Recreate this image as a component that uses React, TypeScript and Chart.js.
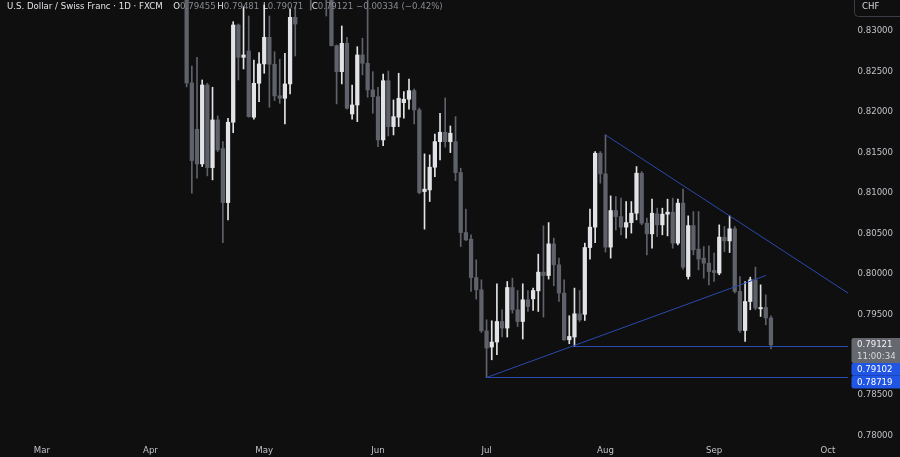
import React, { useEffect, useRef } from "react";
import { Chart, registerables } from "chart.js";

Chart.register(...registerables);

// ---- data (bar index = trading day counted from Mar 3) ----
const startIndex = 28;

const opens = [
  0.857, 0.82358, 0.81786, 0.81358, 0.82333, 0.81312, 0.81901, 0.81547, 0.8088, 0.81873,
  0.83074, 0.82675, 0.82753, 0.81935, 0.82354, 0.82593, 0.82922, 0.82589, 0.822, 0.82169,
  0.82346, 0.83169, 0.835, 0.844, 0.842, 0.838, 0.839, 0.837, 0.8355, 0.82819,
  0.82498, 0.82848, 0.81975, 0.82086, 0.82704, 0.82601, 0.82272, 0.82189, 0.81654, 0.82386,
  0.81819, 0.81935, 0.82115, 0.82157, 0.82263, 0.82025, 0.81016, 0.81037, 0.81317, 0.81633,
  0.81749, 0.81633, 0.81633, 0.81251, 0.8051, 0.80428, 0.79954, 0.79803, 0.79296, 0.79095,
  0.79157, 0.79411, 0.7933, 0.79831, 0.79556, 0.79411, 0.79679, 0.79691, 0.7979, 0.80021,
  0.79979, 0.8037, 0.80111, 0.79762, 0.79185, 0.79219, 0.79506, 0.795, 0.80325, 0.80577,
  0.8149, 0.81235, 0.8033, 0.80782, 0.80707, 0.80577, 0.80633, 0.80749, 0.81243, 0.80626,
  0.80494, 0.80741, 0.80605, 0.80737, 0.80762, 0.80379, 0.80873, 0.79967, 0.80596, 0.80305,
  0.80193, 0.80132, 0.80041, 0.80009, 0.80453, 0.80407, 0.80556, 0.79782, 0.793, 0.79658,
  0.79926, 0.79568, 0.79584, 0.79455,
];
const highs = [
  0.86, 0.82568, 0.82675, 0.82395, 0.82354, 0.82305, 0.81951, 0.81633, 0.81922, 0.83115,
  0.83086, 0.833, 0.83185, 0.82642, 0.82732, 0.83321, 0.83185, 0.82744, 0.82651, 0.82725,
  0.83268, 0.833, 0.8476, 0.8455, 0.844, 0.841, 0.8405, 0.8385, 0.8365, 0.82827,
  0.83062, 0.82922, 0.82333, 0.82806, 0.8291, 0.8345, 0.82498, 0.82305, 0.82469, 0.82506,
  0.82148, 0.82478, 0.82251, 0.82407, 0.82284, 0.82049, 0.81482, 0.81469, 0.81728, 0.81984,
  0.82173, 0.81827, 0.81942, 0.81305, 0.80799, 0.80482, 0.80173, 0.79926, 0.79432, 0.7942,
  0.79877, 0.79556, 0.79905, 0.79947, 0.79794, 0.79877, 0.79794, 0.79824, 0.80243, 0.80593,
  0.80633, 0.80441, 0.80194, 0.79926, 0.79482, 0.79824, 0.79794, 0.80379, 0.80799, 0.8151,
  0.8151, 0.81716, 0.80963, 0.80954, 0.80935, 0.80893, 0.80893, 0.81325, 0.81263, 0.80688,
  0.80922, 0.80811, 0.80811, 0.80922, 0.80935, 0.80922, 0.81046, 0.80716, 0.80769, 0.80769,
  0.80337, 0.80346, 0.80256, 0.80605, 0.80584, 0.80716, 0.80584, 0.79967, 0.79905, 0.79959,
  0.80083, 0.79864, 0.79741, 0.79481,
];
const lows = [
  0.82309, 0.80996, 0.81182, 0.81325, 0.8121, 0.81161, 0.8151, 0.80386, 0.80667, 0.81744,
  0.82395, 0.82531, 0.81935, 0.8191, 0.82127, 0.82478, 0.82058, 0.8214, 0.82107, 0.81852,
  0.82222, 0.82691, 0.8345, 0.8395, 0.83259, 0.835, 0.835, 0.83185, 0.82815, 0.82099,
  0.82346, 0.82033, 0.8191, 0.8188, 0.82457, 0.82182, 0.81984, 0.81572, 0.81584, 0.81704,
  0.81716, 0.81819, 0.81922, 0.82033, 0.81852, 0.80988, 0.80552, 0.80893, 0.81201, 0.81407,
  0.81564, 0.81498, 0.81152, 0.80337, 0.80411, 0.79782, 0.79688, 0.79275, 0.78719, 0.78938,
  0.79, 0.79219, 0.79219, 0.79515, 0.79349, 0.79194, 0.79535, 0.79547, 0.79535, 0.79465,
  0.79935, 0.79852, 0.79658, 0.79177, 0.79136, 0.79102, 0.79411, 0.79424, 0.80182, 0.80386,
  0.8112, 0.80268, 0.80194, 0.80543, 0.80482, 0.80441, 0.80503, 0.80667, 0.80605, 0.80235,
  0.80317, 0.80461, 0.80482, 0.80469, 0.80317, 0.80358, 0.80058, 0.79935, 0.80235, 0.80049,
  0.79947, 0.79864, 0.79905, 0.79988, 0.80275, 0.80263, 0.79762, 0.79275, 0.79164, 0.79556,
  0.79556, 0.79473, 0.7937, 0.79071,
];
const closes = [
  0.82358, 0.81399, 0.81358, 0.82333, 0.81312, 0.81901, 0.81531, 0.8088, 0.81873, 0.83074,
  0.82675, 0.82704, 0.81942, 0.82354, 0.82593, 0.82922, 0.82589, 0.82198, 0.82169, 0.82346,
  0.83169, 0.83086, 0.844, 0.842, 0.838, 0.839, 0.837, 0.8355, 0.82819, 0.82498,
  0.82848, 0.82046, 0.82086, 0.82704, 0.82601, 0.82272, 0.82189, 0.81654, 0.82386, 0.81819,
  0.81942, 0.82169, 0.82157, 0.82263, 0.82025, 0.81004, 0.81046, 0.81317, 0.81633, 0.81749,
  0.81633, 0.81737, 0.81251, 0.8051, 0.8042, 0.79954, 0.79803, 0.79296, 0.79083, 0.79157,
  0.79411, 0.7933, 0.79831, 0.79556, 0.79411, 0.79679, 0.79596, 0.79794, 0.80021, 0.79979,
  0.8037, 0.80111, 0.79762, 0.79185, 0.79226, 0.79506, 0.79432, 0.80325, 0.80577, 0.8149,
  0.81235, 0.8033, 0.80782, 0.80707, 0.80577, 0.80633, 0.80749, 0.81243, 0.80626, 0.80494,
  0.80749, 0.80605, 0.80737, 0.80762, 0.80379, 0.80873, 0.80083, 0.80596, 0.80296, 0.80182,
  0.80132, 0.80028, 0.80016, 0.80453, 0.80407, 0.80556, 0.79782, 0.793, 0.79658, 0.79926,
  0.79577, 0.79584, 0.79455, 0.79121,
];

const monthLabels = ["Mar", "Apr", "May", "Jun", "Jul", "Aug", "Sep", "Oct"];
const monthIndex = [0, 21, 43, 65, 86, 109, 130, 152];
const priceTicks = [0.78, 0.785, 0.79, 0.795, 0.8, 0.805, 0.81, 0.815, 0.82, 0.825, 0.83];

// drawn trend lines: [barIndex, price]
const lineDown = [[109, 0.81716], [160, 0.79591]];
const lineUp = [[86, 0.78719], [140, 0.79979]];
const supportHigh = [[103, 0.79102], [160, 0.79102]];
const supportLow = [[86, 0.78719], [160, 0.78719]];

const titleText = "U.S. Dollar / Swiss Franc · 1D · FXCM";
const countdownText = "11:00:34";

const FONT = '"DejaVu Sans"';
const UP = "#e2e3e6";
const DOWN = "#5f626b";
const LINE = "#2a4aae";

export default function App() {
  const ref = useRef<HTMLCanvasElement | null>(null);

  useEffect(() => {
    if (!ref.current) return;
    const idx = opens.map((_, k) => startIndex + k);
    const colors = opens.map((o, k) => (closes[k] >= o ? UP : DOWN));
    const n = closes.length;
    const lastO = opens[n - 1], lastH = highs[n - 1], lastL = lows[n - 1], lastC = closes[n - 1];
    const prevC = closes[n - 2];

    const toPts = (arr: number[][]) => arr.map(([x, y]) => ({ x, y }));
    const lineDs = (arr: number[][]) => ({
      type: "line" as const,
      data: toPts(arr),
      borderColor: LINE,
      borderWidth: 1,
      pointRadius: 0,
      fill: false,
      tension: 0,
      order: 0,
    });

    const overlay = {
      id: "overlay",
      afterDraw(chart: any) {
        const ctx = chart.ctx as CanvasRenderingContext2D;
        const ys = chart.scales.y;
        ctx.save();
        ctx.font = `8.6px ${FONT}`;
        ctx.textBaseline = "middle";
        ctx.textAlign = "left";
        // legend row
        ctx.fillStyle = "#e2e3e7";
        ctx.fillText(titleText, 7, 6.5);
        const items: [string, string, number][] = [
          ["O", lastO.toFixed(5), 173.3],
          ["H", lastH.toFixed(5), 217.3],
          ["L", lastL.toFixed(5), 263],
          ["C", lastC.toFixed(5), 311.7],
        ];
        items.forEach(([k, v, x]) => {
          ctx.fillStyle = "#e2e3e7";
          ctx.fillText(k, x, 6.5);
          const w = ctx.measureText(k).width;
          ctx.fillStyle = "#878a93";
          ctx.fillText(v, x + w, 6.5);
        });
        const ch = lastC - prevC;
        const pct = (ch / prevC) * 100;
        const sign = ch < 0 ? "\u2212" : "+";
        ctx.fillStyle = "#878a93";
        ctx.fillText(`${sign}${Math.abs(ch).toFixed(5)} (${sign}${Math.abs(pct).toFixed(2)}%)`, 356, 6.5);

        // currency box
        ctx.strokeStyle = "#3a3d46";
        ctx.lineWidth = 1;
        ctx.beginPath();
        (ctx as any).roundRect(854.5, -4.5, 60, 21, 4);
        ctx.stroke();
        ctx.fillStyle = "#d1d4dc";
        ctx.fillText("CHF", 862, 7);

        // price labels
        const x0 = 851.5;
        const yP = ys.getPixelForValue(lastC);
        let top = yP - 7;
        ctx.fillStyle = "#65686f";
        ctx.beginPath();
        (ctx as any).roundRect(x0, top, 60, 25, 2);
        ctx.fill();
        ctx.fillStyle = "#f2f2f2";
        ctx.fillText(lastC.toFixed(5), 857, top + 7);
        ctx.fillStyle = "#dcdcdc";
        ctx.fillText(countdownText, 857, top + 18.5);
        top += 25;
        [supportHigh[0][1], supportLow[0][1]].forEach((p) => {
          ctx.fillStyle = "#2155e3";
          ctx.beginPath();
          (ctx as any).roundRect(x0, top, 60, 12.8, 2);
          ctx.fill();
          ctx.fillStyle = "#ffffff";
          ctx.fillText(p.toFixed(5), 857, top + 6.6);
          top += 12.8;
        });
        ctx.restore();
      },
    };

    const chart = new Chart(ref.current, {
      type: "bar",
      data: {
        datasets: [
          lineDs(lineDown) as any,
          lineDs(lineUp) as any,
          lineDs(supportHigh) as any,
          lineDs(supportLow) as any,
          {
            type: "bar",
            data: idx.map((x, k) => ({ x, y: [lows[k], highs[k]] })),
            backgroundColor: colors,
            barThickness: 1,
            grouped: false,
            order: 2,
          } as any,
          {
            type: "bar",
            data: idx.map((x, k) => ({ x, y: [opens[k], closes[k]] })),
            backgroundColor: colors,
            barThickness: 3.6,
            minBarLength: 1,
            grouped: false,
            order: 1,
          } as any,
        ],
      },
      options: {
        responsive: false,
        animation: false,
        events: [],
        layout: { padding: 0 },
        plugins: { legend: { display: false }, tooltip: { enabled: false }, title: { display: false } },
        scales: {
          x: {
            type: "linear",
            min: -8.1,
            max: 155.9,
            offset: false,
            grid: { display: false, drawTicks: false },
            border: { display: false },
            afterBuildTicks: (s: any) => {
              s.ticks = monthIndex.map((v) => ({ value: v }));
            },
            afterFit: (s: any) => {
              s.height = 17;
              s.paddingLeft = 0;
              s.paddingRight = 0;
            },
            ticks: {
              autoSkip: false,
              maxRotation: 0,
              padding: 6,
              color: "#c0c2c8",
              font: { family: FONT, size: 8.6 },
              callback: (_v: any, i: number) => monthLabels[i] ?? "",
            },
          },
          y: {
            type: "linear",
            position: "right",
            min: 0.77947,
            max: 0.83383,
            grid: { display: false, drawTicks: false },
            border: { display: false },
            afterBuildTicks: (s: any) => {
              s.ticks = priceTicks.map((v) => ({ value: v }));
            },
            afterFit: (s: any) => {
              s.width = 52;
              s.paddingTop = 0;
              s.paddingBottom = 0;
            },
            ticks: {
              padding: 9.5,
              color: "#c0c2c8",
              font: { family: FONT, size: 8.6 },
              callback: (v: any) => Number(v).toFixed(5),
            },
          },
        },
      } as any,
      plugins: [overlay],
    });
    return () => chart.destroy();
  }, []);

  return (
    <div
      style={{
        position: "fixed",
        left: 0,
        top: 0,
        width: 900,
        height: 457,
        background: "#0f0f0f",
        overflow: "hidden",
      }}
    >
      <canvas ref={ref} width={900} height={457} style={{ display: "block" }} />
    </div>
  );
}
